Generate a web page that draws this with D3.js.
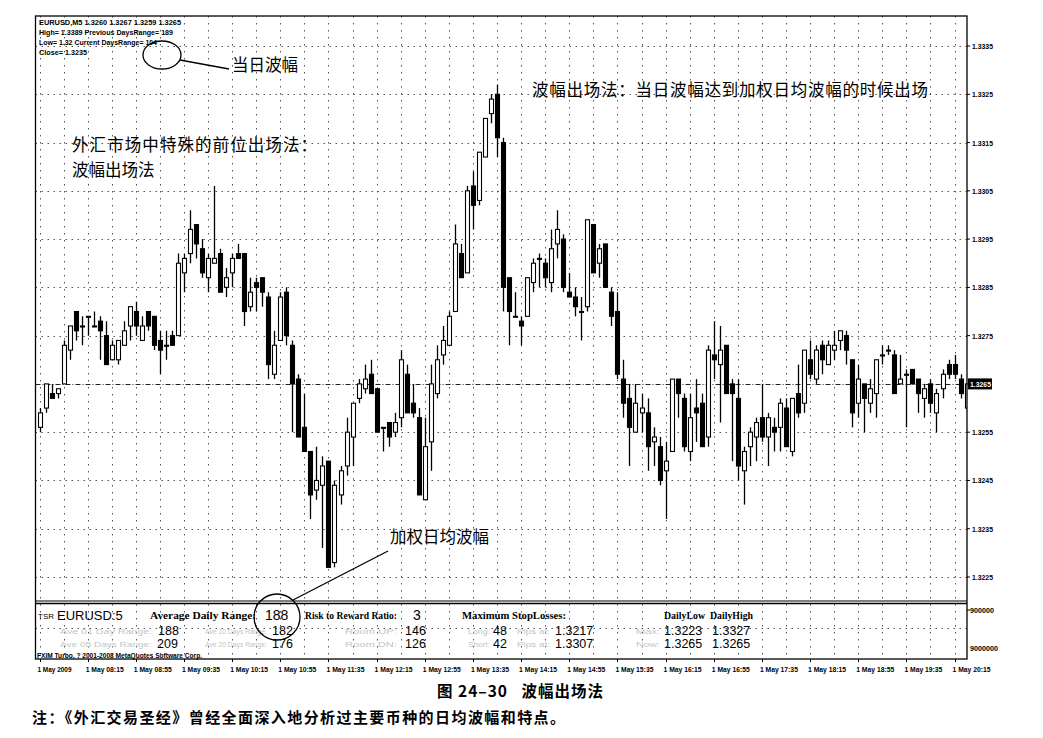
<!DOCTYPE html>
<html><head><meta charset="utf-8">
<script src="https://cdn.jsdelivr.net/npm/d3@7"></script>
<style>body{margin:0;background:#fff;} svg{display:block}</style>
</head><body>
<svg id="c" width="1043" height="738"></svg>
<script>
// ---- DATA ----
const opens  = [1.3256,1.3260,1.3263,1.3263,1.3265,1.3272,1.3280,1.3277,1.3279,1.3277,1.3278,1.3275,1.3270,1.3270,1.3273,1.3277,1.3280,1.3274,1.3280,1.3279,1.3274,1.3273,1.3275,1.3275,1.3288,1.3292,1.3298,1.3293,1.3287,1.3290,1.3292,1.3285,1.3288,1.3292,1.3292,1.3281,1.3286,1.3287,1.3283,1.3267,1.3274,1.3284,1.3273,1.3266,1.3256,1.3251,1.3243,1.3244,1.3249,1.3228,1.3242,1.3248,1.3254,1.3262,1.3264,1.3267,1.3264,1.3256,1.3257,1.3255,1.3258,1.3267,1.3261,1.3258,1.3241,1.3253,1.3263,1.3271,1.3273,1.3280,1.3292,1.3288,1.3306,1.3303,1.3312,1.3321,1.3325,1.3315,1.3287,1.3279,1.3278,1.3279,1.3286,1.3291,1.3290,1.3286,1.3294,1.3295,1.3284,1.3283,1.3280,1.3281,1.3298,1.3290,1.3294,1.3284,1.3280,1.3266,1.3262,1.3255,1.3259,1.3259,1.3253,1.3252,1.3247,1.3251,1.3266,1.3262,1.3251,1.3260,1.3261,1.3254,1.3271,1.3269,1.3273,1.3265,1.3262,1.3247,1.3252,1.3254,1.3258,1.3254,1.3256,1.3256,1.3260,1.3251,1.3263,1.3261,1.3270,1.3266,1.3273,1.3269,1.3272,1.3274,1.3275,1.3270,1.3261,1.3265,1.3261,1.3263,1.3271,1.3272,1.3271,1.3265,1.3267,1.3268,1.3266,1.3262,1.3265,1.3259,1.3264,1.3269,1.3269,1.3266,1.3260];
const highs  = [1.3260,1.3265,1.3265,1.3264,1.3274,1.3277,1.3280,1.3279,1.3279,1.3280,1.3279,1.3278,1.3274,1.3274,1.3278,1.3281,1.3282,1.3279,1.3280,1.3279,1.3276,1.3276,1.3276,1.3292,1.3292,1.3301,1.3298,1.3295,1.3292,1.3306,1.3293,1.3289,1.3292,1.3294,1.3292,1.3287,1.3287,1.3287,1.3284,1.3276,1.3284,1.3285,1.3274,1.3267,1.3263,1.3251,1.3252,1.3250,1.3249,1.3245,1.3248,1.3258,1.3261,1.3266,1.3269,1.3270,1.3264,1.3256,1.3257,1.3259,1.3272,1.3269,1.3265,1.3260,1.3258,1.3269,1.3273,1.3277,1.3280,1.3298,1.3294,1.3306,1.3309,1.3313,1.3320,1.3325,1.3327,1.3316,1.3287,1.3284,1.3279,1.3287,1.3291,1.3292,1.3291,1.3297,1.3301,1.3296,1.3288,1.3285,1.3283,1.3299,1.3298,1.3294,1.3294,1.3285,1.3284,1.3270,1.3265,1.3265,1.3263,1.3262,1.3256,1.3254,1.3253,1.3266,1.3266,1.3263,1.3263,1.3266,1.3263,1.3273,1.3278,1.3277,1.3273,1.3266,1.3266,1.3252,1.3256,1.3258,1.3265,1.3259,1.3258,1.3262,1.3262,1.3262,1.3269,1.3272,1.3274,1.3273,1.3274,1.3274,1.3276,1.3276,1.3276,1.3270,1.3269,1.3265,1.3266,1.3270,1.3273,1.3273,1.3272,1.3271,1.3268,1.3268,1.3266,1.3265,1.3266,1.3264,1.3268,1.3270,1.3271,1.3267,1.3267];
const lows   = [1.3255,1.3259,1.3262,1.3262,1.3265,1.3270,1.3274,1.3273,1.3275,1.3277,1.3270,1.3269,1.3270,1.3269,1.3273,1.3274,1.3275,1.3274,1.3276,1.3272,1.3267,1.3270,1.3273,1.3275,1.3284,1.3290,1.3291,1.3287,1.3284,1.3290,1.3284,1.3283,1.3285,1.3291,1.3277,1.3280,1.3280,1.3281,1.3266,1.3266,1.3274,1.3273,1.3255,1.3254,1.3251,1.3237,1.3241,1.3231,1.3227,1.3227,1.3240,1.3246,1.3248,1.3261,1.3263,1.3263,1.3255,1.3251,1.3252,1.3254,1.3256,1.3259,1.3258,1.3242,1.3241,1.3247,1.3262,1.3269,1.3273,1.3280,1.3287,1.3288,1.3297,1.3302,1.3312,1.3319,1.3312,1.3280,1.3273,1.3279,1.3273,1.3279,1.3284,1.3285,1.3285,1.3284,1.3291,1.3284,1.3283,1.3279,1.3274,1.3280,1.3288,1.3287,1.3285,1.3277,1.3266,1.3258,1.3248,1.3255,1.3255,1.3247,1.3248,1.3244,1.3237,1.3251,1.3258,1.3251,1.3249,1.3253,1.3252,1.3252,1.3266,1.3257,1.3263,1.3249,1.3245,1.3240,1.3248,1.3249,1.3253,1.3248,1.3251,1.3251,1.3252,1.3250,1.3258,1.3259,1.3266,1.3265,1.3267,1.3269,1.3270,1.3272,1.3269,1.3256,1.3258,1.3255,1.3259,1.3258,1.3269,1.3271,1.3263,1.3265,1.3256,1.3265,1.3259,1.3258,1.3259,1.3255,1.3262,1.3266,1.3266,1.3262,1.3259];
const closes = [1.3259,1.3265,1.3262,1.3264,1.3273,1.3277,1.3276,1.3277,1.3279,1.3277,1.3276,1.3269,1.3273,1.3274,1.3276,1.3281,1.3277,1.3277,1.3277,1.3273,1.3272,1.3273,1.3273,1.3290,1.3291,1.3297,1.3294,1.3288,1.3291,1.3291,1.3284,1.3287,1.3291,1.3291,1.3280,1.3284,1.3285,1.3284,1.3269,1.3273,1.3283,1.3275,1.3265,1.3254,1.3251,1.3242,1.3245,1.3248,1.3227,1.3244,1.3247,1.3255,1.3261,1.3265,1.3266,1.3263,1.3255,1.3256,1.3254,1.3257,1.3270,1.3259,1.3259,1.3242,1.3252,1.3265,1.3270,1.3274,1.3279,1.3294,1.3287,1.3305,1.3302,1.3313,1.3320,1.3324,1.3316,1.3285,1.3280,1.3279,1.3277,1.3287,1.3290,1.3291,1.3287,1.3293,1.3297,1.3285,1.3283,1.3281,1.3280,1.3299,1.3288,1.3293,1.3285,1.3279,1.3267,1.3261,1.3256,1.3261,1.3260,1.3252,1.3254,1.3245,1.3249,1.3266,1.3263,1.3252,1.3258,1.3259,1.3252,1.3272,1.3270,1.3272,1.3263,1.3263,1.3248,1.3251,1.3255,1.3257,1.3254,1.3258,1.3255,1.3261,1.3252,1.3262,1.3259,1.3272,1.3267,1.3272,1.3270,1.3273,1.3273,1.3276,1.3272,1.3259,1.3266,1.3262,1.3264,1.3270,1.3271,1.3272,1.3263,1.3266,1.3267,1.3265,1.3263,1.3264,1.3261,1.3263,1.3267,1.3267,1.3267,1.3263,1.3265];
const priceTicks = [1.3225,1.3235,1.3245,1.3255,1.3265,1.3275,1.3285,1.3295,1.3305,1.3315,1.3325,1.3335];
const currentPrice = 1.3265;
const timeLabels = ["1 May 2009","1 May 08:15","1 May 08:55","1 May 09:35","1 May 10:15","1 May 10:55","1 May 11:35","1 May 12:15","1 May 12:55","1 May 13:35","1 May 14:15","1 May 14:55","1 May 15:35","1 May 16:15","1 May 16:55","1 May 17:35","1 May 18:15","1 May 18:55","1 May 19:35","1 May 20:15"];
const headerLines = ["EURUSD,M5  1.3260 1.3267 1.3259 1.3265","High= 1.3389 Previous DaysRange= 189","Low= 1.32 Current DaysRange= 104","Close= 1.3235"];
const panelRow1Labels = [["Average Daily Range:",150,106],["Risk to Reward Ratio:",305,92],["Maximum StopLosses:",462,104],["DailyLow",664,41],["DailyHigh",710,43]];
const panelRow1Values = [["188",265],["3",413]];
const panelRow2Labels = [["Ave 01 Day Range:",60,92],["Ave 10 Days Range:",205,62],["Room UP:",345,52],["Long:",468,22],["Pips at:",517,33],["Max:",636,24]];
const panelRow2Values = [["188",158],["182",272],["146",405],["48",493],["1.3217",555],["1.3223",664],["1.3327",712]];
const panelRow3Labels = [["Ave 05 Days Range:",60,92],["Ave 20 Days Range:",205,62],["Room DN:",345,52],["Short:",468,22],["Pips at:",517,33],["Now:",636,24]];
const panelRow3Values = [["209",157],["176",272],["126",405],["42",493],["1.3307",555],["1.3265",664],["1.3265",712]];

// ---- LAYOUT ----
const svg = d3.select("#c");
const L = 35.5, R = 967, T = 16, B = 601, PB = 659;
const n = opens.length;
const x = d3.scaleLinear().domain([0, n-1]).range([39.5, 39.5 + 6.02*(n-1)]);
const y = d3.scaleLinear().domain([1.3225, 1.3335]).range([577, 46]);
const gridCol = "#555";

const clip = svg.append("defs").append("clipPath").attr("id","pc");
clip.append("rect").attr("x",L).attr("y",T).attr("width",R-L).attr("height",B-T);

// grid horizontal
svg.append("g").selectAll("line").data(priceTicks.filter(p=>p!==currentPrice)).join("line")
  .attr("x1",L).attr("x2",R).attr("y1",d=>Math.round(y(d))+0.5).attr("y2",d=>Math.round(y(d))+0.5)
  .attr("stroke",gridCol).attr("stroke-width",1).attr("stroke-dasharray","1.5,4.5");
// grid vertical
const vIdx = d3.range(0, n, 4);
svg.append("g").selectAll("line").data(vIdx).join("line")
  .attr("x1",d=>Math.round(x(d))+0.5).attr("x2",d=>Math.round(x(d))+0.5).attr("y1",T).attr("y2",PB)
  .attr("stroke",gridCol).attr("stroke-width",1).attr("stroke-dasharray","1.5,5.5");
// panel horizontal grid
svg.append("line").attr("x1",L).attr("x2",R).attr("y1",628.5).attr("y2",628.5)
  .attr("stroke",gridCol).attr("stroke-dasharray","1.5,4.5");
// current price line
svg.append("line").attr("x1",L).attr("x2",R).attr("y1",Math.round(y(currentPrice))+0.5).attr("y2",Math.round(y(currentPrice))+0.5)
  .attr("stroke","#222").attr("stroke-width",1).attr("stroke-dasharray","5,2,1,2");

// candles
const g = svg.append("g").attr("clip-path","url(#pc)");
const idx = d3.range(n);
g.selectAll("line.w").data(idx).join("line").attr("class","w")
  .attr("x1",i=>Math.round(x(i))+0.5).attr("x2",i=>Math.round(x(i))+0.5)
  .attr("y1",i=>y(highs[i])).attr("y2",i=>y(lows[i]))
  .attr("stroke","#000").attr("stroke-width",1.3);
g.selectAll("rect.b").data(idx).join("rect").attr("class","b")
  .attr("x",i=>Math.round(x(i))-1.5)
  .attr("y",i=>y(Math.max(opens[i],closes[i])))
  .attr("width",4)
  .attr("height",i=>Math.max(1,Math.abs(y(opens[i])-y(closes[i]))))
  .attr("fill",i=>closes[i]>=opens[i]?"#fff":"#000")
  .attr("stroke","#000").attr("stroke-width",1.1);

// frame
svg.append("rect").attr("x",L).attr("y",T).attr("width",R-L).attr("height",PB-T)
  .attr("fill","none").attr("stroke","#000").attr("stroke-width",1.3);
svg.append("line").attr("x1",L).attr("x2",R).attr("y1",B).attr("y2",B).attr("stroke","#000").attr("stroke-width",1.2);
svg.append("line").attr("x1",L).attr("x2",R).attr("y1",B+2.5).attr("y2",B+2.5).attr("stroke","#000").attr("stroke-width",1.6);

// right axis
const ax = svg.append("g").attr("font-family","Liberation Sans, Arial, sans-serif").attr("font-size",8).attr("font-weight","bold");
ax.selectAll("line").data(priceTicks).join("line")
  .attr("x1",R).attr("x2",R+3).attr("y1",d=>y(d)).attr("y2",d=>y(d)).attr("stroke","#000");
ax.selectAll("text").data(priceTicks.filter(p=>p!==currentPrice)).join("text")
  .attr("x",R+5).attr("y",d=>y(d)+3).attr("textLength",21).attr("lengthAdjust","spacingAndGlyphs")
  .text(d=>d.toFixed(4));
ax.append("rect").attr("x",R+1).attr("y",y(currentPrice)-5.5).attr("width",24).attr("height",11).attr("fill","#000");
ax.append("text").attr("x",R+3).attr("y",y(currentPrice)+3).attr("fill","#fff").attr("textLength",21).attr("lengthAdjust","spacingAndGlyphs").text(currentPrice.toFixed(4));
ax.append("line").attr("x1",R).attr("x2",R+3).attr("y1",610).attr("y2",610).attr("stroke","#000");
ax.append("text").attr("x",R+3).attr("y",613).attr("textLength",24).attr("lengthAdjust","spacingAndGlyphs").text("900000");
ax.append("text").attr("x",R+3).attr("y",651).attr("textLength",28).attr("lengthAdjust","spacingAndGlyphs").text("9000000");

// time axis
const tx = svg.append("g").attr("font-family","Liberation Sans, Arial, sans-serif").attr("font-size",8).attr("font-weight","bold");
tx.selectAll("text").data(timeLabels).join("text")
  .attr("x",(d,k)=>x(k*8)-2).attr("y",672)
  .attr("textLength",(d,k)=>k===0?34:38).attr("lengthAdjust","spacingAndGlyphs").text(d=>d);
tx.selectAll("line").data(timeLabels).join("line")
  .attr("x1",(d,k)=>Math.round(x(k*8))+0.5).attr("x2",(d,k)=>Math.round(x(k*8))+0.5)
  .attr("y1",PB).attr("y2",PB+3).attr("stroke","#000");

// header text
const ht = svg.append("g").attr("font-family","Liberation Sans, Arial, sans-serif").attr("font-size",8).attr("font-weight","bold");
const hLens = [142,134,118,48];
ht.selectAll("text").data(headerLines).join("text")
  .attr("x",39).attr("y",(d,k)=>25+k*10).attr("textLength",(d,k)=>hLens[k]).attr("lengthAdjust","spacingAndGlyphs").text(d=>d);

// panel
const pt = svg.append("g");
pt.append("text").attr("x",38).attr("y",619).attr("font-family","Liberation Sans, Arial").attr("font-size",8).text("TSR");
pt.append("text").attr("x",57).attr("y",620).attr("font-family","Liberation Sans, Arial").attr("font-size",13).text("EURUSD:5");
pt.selectAll("text.r1").data(panelRow1Labels).join("text").attr("class","r1")
  .attr("x",d=>d[1]).attr("y",619)
  .attr("font-family","Liberation Serif, Times New Roman").attr("font-size",11).attr("font-weight","bold")
  .attr("textLength",d=>d[2]).attr("lengthAdjust","spacingAndGlyphs")
  .text(d=>d[0]);
pt.selectAll("text.r1v").data(panelRow1Values).join("text").attr("class","r1v")
  .attr("x",d=>d[1]).attr("y",620).attr("font-family","Liberation Sans, Arial").attr("font-size",14)
  .text(d=>d[0]);
pt.selectAll("text.l2").data(panelRow2Labels.concat(panelRow3Labels.map(d=>[d[0],d[1],d[2],1]))).join("text").attr("class","l2")
  .attr("x",d=>d[1]).attr("y",d=>d[3]?646.5:633.5).attr("font-family","Liberation Sans, Arial").attr("font-size",7.2).attr("fill","#c4c4c4")
  .attr("textLength",d=>d[2]).attr("lengthAdjust","spacingAndGlyphs")
  .text(d=>d[0]);
pt.selectAll("text.v2").data(panelRow2Values.concat(panelRow3Values.map(d=>[d[0],d[1],1]))).join("text").attr("class","v2")
  .attr("x",d=>d[1]).attr("y",d=>d[2]?647.5:634.5).attr("font-family","Liberation Sans, Arial").attr("font-size",12.5)
  .text(d=>d[0]);
pt.append("text").attr("x",37).attr("y",658).attr("font-family","Liberation Sans, Arial").attr("font-size",7).attr("font-weight","bold")
  .attr("textLength",165).attr("lengthAdjust","spacingAndGlyphs").text("FXIM Turbo, ? 2001-2008 MetaQuotes Software Corp.");

// annotations
const cjk = "Noto Sans CJK SC, sans-serif";
const an = svg.append("g").attr("font-family",cjk).attr("font-size",16.5).attr("fill","#000");
an.append("ellipse").attr("cx",162).attr("cy",55).attr("rx",19).attr("ry",14).attr("fill","none").attr("stroke","#000").attr("stroke-width",1.3);
an.append("line").attr("x1",180).attr("y1",60).attr("x2",229).attr("y2",69).attr("stroke","#000").attr("stroke-width",1.3);
an.append("text").attr("x",232).attr("y",71).text("当日波幅");
an.append("text").attr("x",532).attr("y",96).attr("textLength",396).text("波幅出场法：当日波幅达到加权日均波幅的时候出场");
an.append("text").attr("x",72).attr("y",151).attr("textLength",245).text("外汇市场中特殊的前位出场法：");
an.append("text").attr("x",72).attr("y",176).text("波幅出场法");
an.append("text").attr("x",390).attr("y",543).text("加权日均波幅");
an.append("circle").attr("cx",277).attr("cy",617).attr("r",23).attr("fill","none").attr("stroke","#000").attr("stroke-width",1.3);
an.append("line").attr("x1",293).attr("y1",600).attr("x2",388).attr("y2",551).attr("stroke","#000").attr("stroke-width",1.3);

// caption
svg.append("text").attr("x",437).attr("y",697).attr("font-family",cjk).attr("font-weight","bold").attr("font-size",15.5)
  .attr("textLength",166).attr("xml:space","preserve").text("图 24–30   波幅出场法");
svg.append("text").attr("x",32).attr("y",723).attr("font-family",cjk).attr("font-weight","bold").attr("font-size",15)
  .attr("textLength",533).text("注：《外汇交易圣经》曾经全面深入地分析过主要币种的日均波幅和特点。");
</script>
</body></html>
